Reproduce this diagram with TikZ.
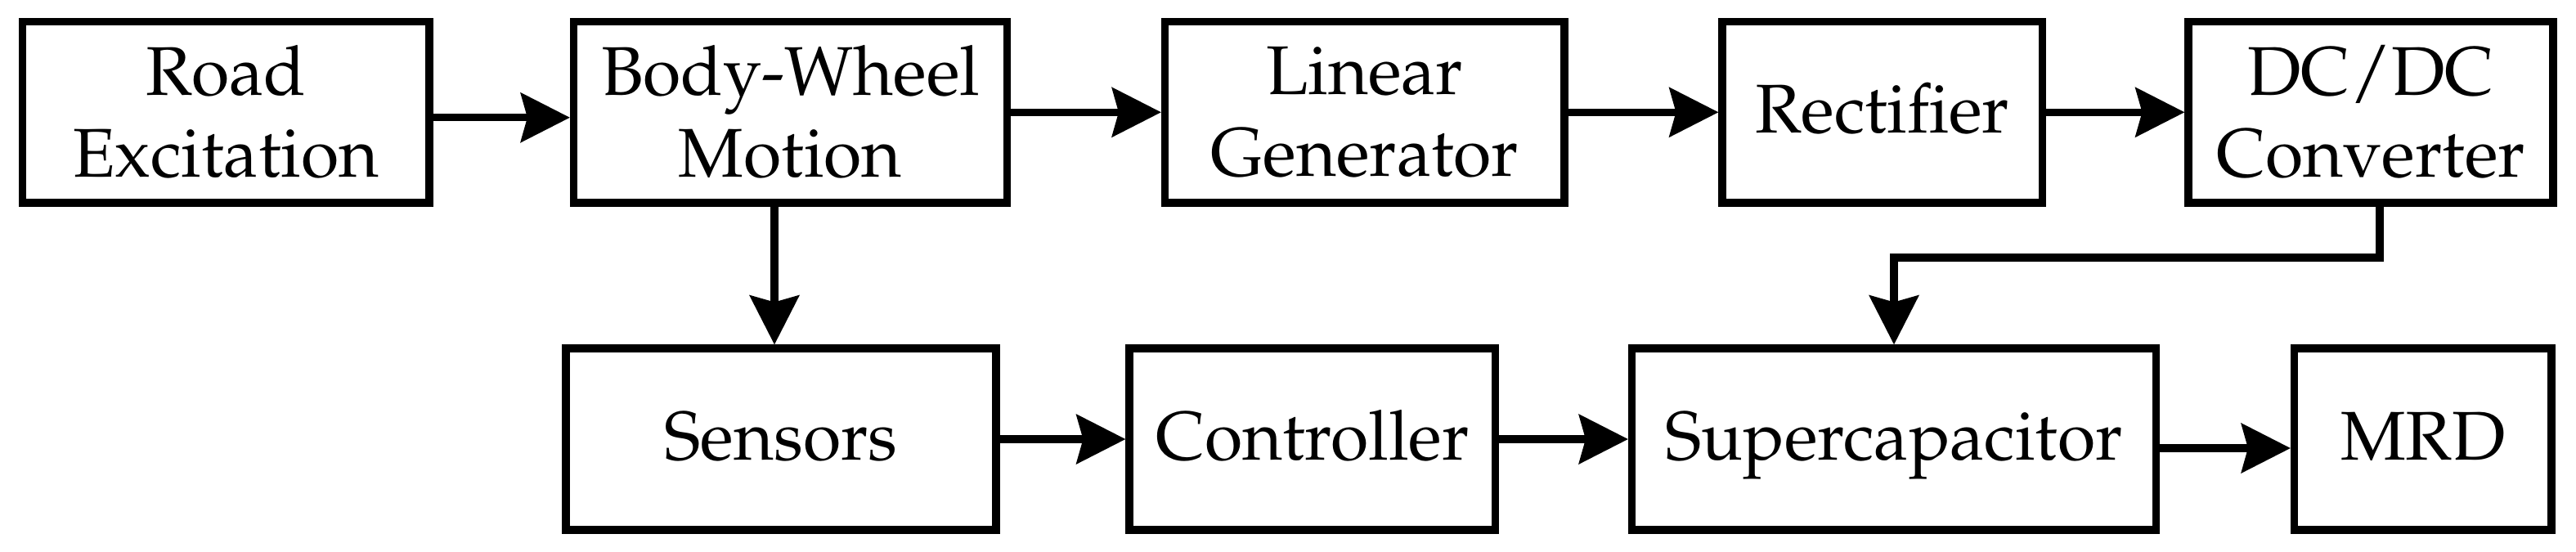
\documentclass[tikz,border=0pt]{standalone}
\IfFileExists{mathpazo.sty}{\usepackage[T1]{fontenc}\usepackage{mathpazo}}{\usepackage{fontspec}\setmainfont{Liberation Serif}}
\usetikzlibrary{arrows.meta}
\begin{document}
\begin{tikzpicture}[blk/.style={draw, line width=2.6pt, minimum height=2.215cm, align=center, inner sep=0pt, font=\fontsize{24}{28.5}\selectfont},
oneline/.style={text height=0.5cm, text depth=0cm},
arr/.style={line width=2.6pt, -{Stealth[length=6mm, width=6mm, inset=0.8mm]}}]
\useasboundingbox (0,0) rectangle (31.5,-6.74);
\node[blk, minimum width=4.975cm] (road) at (2.7625,-1.3725){Road\\Excitation};
\node[blk, minimum width=5.3cm] (body) at (9.665,-1.3725){Body-Wheel\\Motion};
\node[blk, minimum width=4.885cm] (lingen) at (16.6875,-1.3725){Linear\\Generator};
\node[blk, oneline, minimum width=3.915cm] (rect) at (23.0175,-1.3725){Rectifier};
\node[blk, minimum width=4.46cm] (dcdc) at (28.99,-1.3725){DC/DC\\Converter};
\node[blk, oneline, minimum width=5.26cm, minimum height=2.22cm] (sens) at (9.55,-5.37){Sensors};
\node[blk, oneline, minimum width=4.475cm, minimum height=2.22cm] (ctrl) at (16.0475,-5.37){Controller};
\node[blk, oneline, minimum width=6.41cm, minimum height=2.22cm] (scap) at (23.16,-5.37){Supercapacitor};
\node[blk, oneline, minimum width=3.145cm, minimum height=2.22cm] (mrd) at (29.6275,-5.37){MRD};
\coordinate (bend1) at (29.1,-3.15);
\coordinate (bend2) at (23.16,-3.15);
\draw[arr]([yshift=-0.065cm]road.east) -- ([yshift=-0.065cm]body.west);
\draw[arr](body) -- (lingen);
\draw[arr](lingen) -- (rect);
\draw[arr](rect) -- (dcdc);
\draw[arr]([xshift=-0.195cm]body.south) -- ([xshift=-0.195cm]body.south |- sens.north);
\draw[arr](sens) -- (ctrl);
\draw[arr](ctrl) -- (scap);
\draw[arr]([yshift=-0.11cm]scap.east) -- ([yshift=-0.11cm]mrd.west);
\draw[arr, line join=miter](dcdc.south -| bend1) -- (bend1) -- (bend2) -- (scap.north);
\end{tikzpicture}
\end{document}
